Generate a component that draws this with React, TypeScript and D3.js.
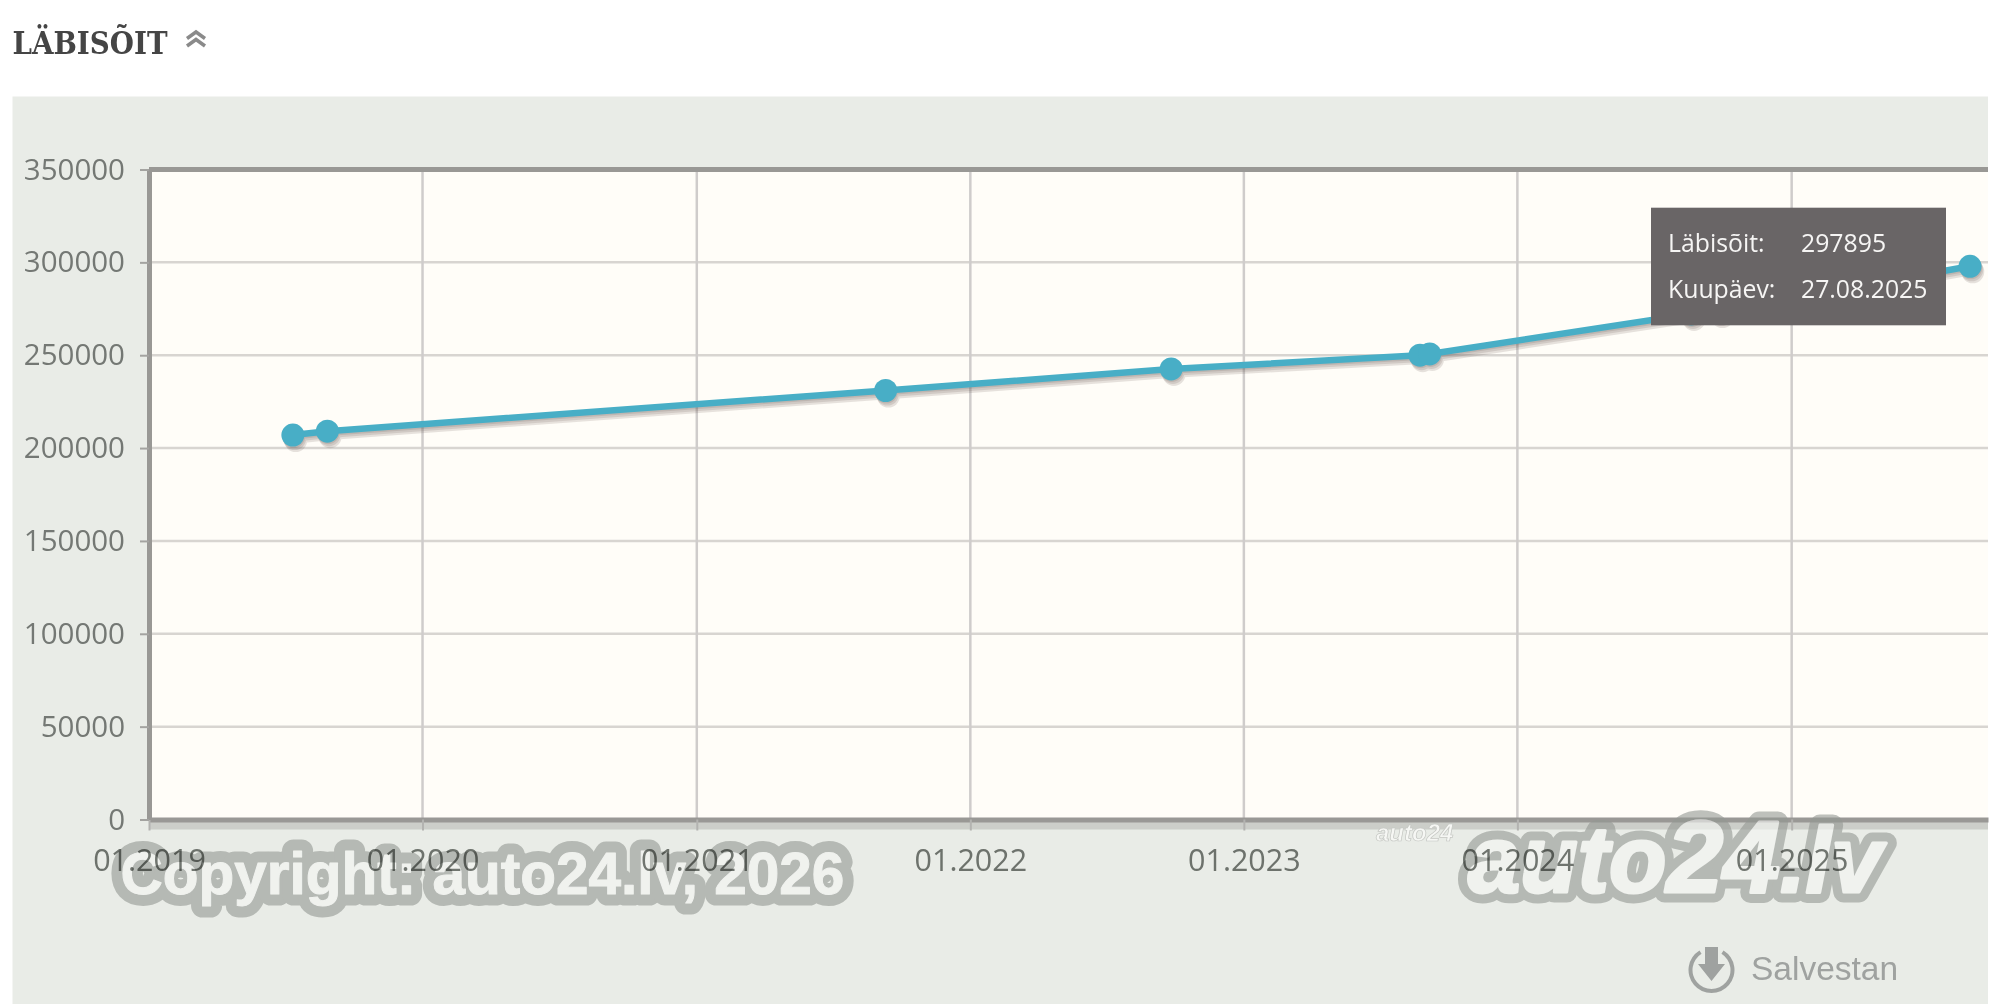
import { useEffect, useRef } from 'react'
import * as d3 from 'd3'

// the last one is in the tooltip
const dates = [
  '2019-07-12',
  '2019-08-27',
  '2021-09-10',
  '2022-09-26',
  '2023-08-24',
  '2023-09-06',
  '2024-08-20',
  '2024-09-27',
  '2025-08-27',
]
const mileage = [207000, 209100, 231000, 242600, 250000, 250700, 272200, 273800, 297895]

const yTicks = [0, 50000, 100000, 150000, 200000, 250000, 300000, 350000]
const xTickYears = [2019, 2020, 2021, 2022, 2023, 2024, 2025]

const tooltipRows = [
  ['Läbisõit:', '297895'],
  ['Kuupäev:', '27.08.2025'],
]

const App = () => {
  const svgRef = useRef<SVGSVGElement | null>(null)

  useEffect(() => {
    if (!svgRef.current) return

    const svg = d3.select(svgRef.current)
    svg.selectAll('*').remove()

    const plot = { left: 149, right: 1988, top: 169.5, bottom: 819.5 }
    const labelFont = '"Open Sans", sans-serif'
    const arial = '"Liberation Sans", Arial, sans-serif'

    const points = dates.map((d, i) => ({ date: new Date(d + 'T00:00:00'), value: mileage[i] }))
    const tickDates = xTickYears.map((y) => new Date(y, 0, 1))

    const x = d3
      .scaleTime()
      .domain([new Date(2019, 0, 1), new Date(2025, 8, 20)])
      .range([plot.left, plot.right])
    const y = d3.scaleLinear().domain([0, 350000]).range([plot.bottom, plot.top])

    // panel and plot background
    svg
      .append('rect')
      .attr('x', 12.5)
      .attr('y', 96.5)
      .attr('width', 1975.5)
      .attr('height', 907.5)
      .attr('fill', '#e9ece7')
    svg
      .append('rect')
      .attr('x', plot.left)
      .attr('y', plot.top)
      .attr('width', plot.right - plot.left)
      .attr('height', plot.bottom - plot.top)
      .attr('fill', '#fffdf8')

    // title with the two chevrons
    svg
      .append('text')
      .attr('x', 12.5)
      .attr('y', 54)
      .attr('font-family', '"DejaVu Serif Condensed", "DejaVu Serif", serif')
      .attr('font-weight', 'bold')
      .attr('font-size', 32)
      .attr('fill', '#454545')
      .attr('textLength', 155)
      .attr('lengthAdjust', 'spacingAndGlyphs')
      .text('LÄBISÕIT')
    svg
      .append('path')
      .attr('d', 'M187,38.5 L196,32 L205,38.5 M187,46 L196,39.5 L205,46')
      .attr('fill', 'none')
      .attr('stroke', '#8a8a8a')
      .attr('stroke-width', 3.5)

    // grid
    svg
      .append('g')
      .selectAll('line')
      .data(yTicks.slice(1, -1))
      .join('line')
      .attr('x1', plot.left)
      .attr('x2', plot.right)
      .attr('y1', (d) => y(d))
      .attr('y2', (d) => y(d))
      .attr('stroke', '#d8d5d1')
      .attr('stroke-width', 2.5)
    svg
      .append('g')
      .selectAll('line')
      .data(tickDates.slice(1))
      .join('line')
      .attr('x1', (d) => x(d))
      .attr('x2', (d) => x(d))
      .attr('y1', plot.top)
      .attr('y2', plot.bottom)
      .attr('stroke', '#cfcccb')
      .attr('stroke-width', 2.5)

    // axis frame shadow + frame
    svg
      .append('rect')
      .attr('x', plot.left)
      .attr('y', plot.bottom + 2)
      .attr('width', plot.right - plot.left)
      .attr('height', 8)
      .attr('fill', '#b9bab6')
      .attr('opacity', 0.6)

    const xTickAxis = d3
      .axisBottom<Date>(x)
      .tickValues(tickDates)
      .tickSize(11)
      .tickSizeOuter(0)
      .tickFormat(() => '')
    const xTickG = svg.append('g').attr('transform', `translate(0,${plot.bottom})`).call(xTickAxis)
    xTickG.select('.domain').attr('stroke', '#999895').attr('stroke-width', 5)
    xTickG.selectAll('.tick line').attr('stroke', '#b3b3b0').attr('stroke-width', 2)

    const yAxis = d3
      .axisLeft(y)
      .tickValues(yTicks)
      .tickSize(9)
      .tickSizeOuter(0)
      .tickPadding(15)
      .tickFormat(d3.format('d'))
    const yG = svg.append('g').attr('transform', `translate(${plot.left},0)`).call(yAxis)
    yG.select('.domain').attr('stroke', '#999895').attr('stroke-width', 5)
    yG.selectAll('.tick line').attr('stroke', '#a3a3a0').attr('stroke-width', 2)
    yG.selectAll('.tick text')
      .attr('font-family', labelFont)
      .attr('font-size', 29.5)
      .attr('fill', '#747874')
      .attr('dy', null)
      .attr('y', 9.5)

    svg
      .append('line')
      .attr('x1', plot.left)
      .attr('x2', plot.right)
      .attr('y1', plot.top)
      .attr('y2', plot.top)
      .attr('stroke', '#999895')
      .attr('stroke-width', 5)

    // line and points, the shadow is the same shape pushed down a few times
    const line = d3
      .line<{ date: Date; value: number }>()
      .x((d) => x(d.date))
      .y((d) => y(d.value))

    const drawSeries = (parent: any, colour: string, opacity: number) => {
      const g = parent.append('g').attr('opacity', opacity)
      g.append('path')
        .datum(points)
        .attr('fill', 'none')
        .attr('stroke', colour)
        .attr('stroke-width', 6.5)
        .attr('d', line)
      g.selectAll('circle')
        .data(points)
        .join('circle')
        .attr('cx', (d: any) => x(d.date))
        .attr('cy', (d: any) => y(d.value))
        .attr('r', 11.5)
        .attr('fill', colour)
      return g
    }

    ;[5.5, 3.5, 1.5].forEach((offset) => {
      drawSeries(svg, '#5b4a45', 0.15).attr('transform', `translate(${offset * 0.5},${offset})`)
    })
    drawSeries(svg, '#48aec6', 1)

    // watermarks: group opacity lets the axis shine through
    const watermark = svg.append('g').attr('opacity', 0.6).attr('font-family', arial)

    // outline first, then the letters a bit fattened so they read as heavy as the original
    const outlined = (outline: number, fatten: number) => {
      const layers = [
        { stroke: '#949893', width: outline },
        { stroke: '#f5f6f4', width: fatten },
      ]
      return layers.map((l) =>
        watermark
          .append('text')
          .attr('font-weight', 'bold')
          .attr('fill', '#f5f6f4')
          .attr('stroke', l.stroke)
          .attr('stroke-width', l.width)
          .attr('stroke-linejoin', 'round')
      )
    }

    outlined(23, 1).forEach((t) =>
      t.attr('x', 120.5).attr('y', 893.5).attr('font-size', 58.5).text('Copyright: auto24.lv, 2026')
    )

    outlined(21, 3).forEach((t) => {
      t.attr('x', 1468).attr('y', 892).attr('font-style', 'italic')
      t.append('tspan').attr('font-size', 94).text('auto')
      t.append('tspan').attr('font-size', 102).text('24')
      t.append('tspan').attr('font-size', 92).text('.lv')
    })

    svg
      .append('text')
      .attr('x', 1376)
      .attr('y', 841)
      .attr('font-family', arial)
      .attr('font-size', 24)
      .attr('font-weight', 'bold')
      .attr('font-style', 'italic')
      .attr('fill', '#f6f7f4')
      .attr('stroke', '#c4c6c2')
      .attr('stroke-width', 0.7)
      .text('auto24')

    // x labels go on top of the watermark and darken it
    const xLabelAxis = d3
      .axisBottom<Date>(x)
      .tickValues(tickDates)
      .tickSize(0)
      .tickSizeOuter(0)
      .tickFormat(d3.timeFormat('%m.%Y') as any)
    const xLabelG = svg.append('g').attr('transform', `translate(0,${plot.bottom})`).call(xLabelAxis)
    xLabelG.select('.domain').remove()
    xLabelG
      .selectAll('.tick text')
      .attr('font-family', labelFont)
      .attr('font-size', 30.5)
      .attr('fill', '#777b77')
      .attr('dy', null)
      .attr('y', 51)
      .style('mix-blend-mode', 'multiply')

    // save button
    const save = svg.append('g').attr('fill', '#9fa2a0').attr('stroke', 'none')
    save
      .append('path')
      .attr('d', d3.arc()({ innerRadius: 19, outerRadius: 23, startAngle: 0.55, endAngle: Math.PI * 2 - 0.55 }) as string)
      .attr('transform', 'translate(1711.5,970)')
    save.append('path').attr('d', 'M1705,947 H1718 V964 H1725 L1711.5,981 L1698,964 H1705 Z')
    save
      .append('text')
      .attr('x', 1751)
      .attr('y', 980)
      .attr('font-family', arial)
      .attr('font-size', 33.5)
      .text('Salvestan')

    // tooltip
    const tooltip = svg.append('g')
    tooltip
      .append('rect')
      .attr('x', 1651)
      .attr('y', 207.7)
      .attr('width', 295)
      .attr('height', 117.6)
      .attr('fill', '#696566')
    const rows = tooltip
      .selectAll('g')
      .data(tooltipRows)
      .join('g')
      .attr('font-family', labelFont)
      .attr('font-size', 24.8)
      .attr('fill', '#f6f5f4')
    rows
      .append('text')
      .attr('x', 1668)
      .attr('y', (_, i) => 251.5 + i * 46.5)
      .text((d) => d[0])
    rows
      .append('text')
      .attr('x', 1801)
      .attr('y', (_, i) => 251.5 + i * 46.5)
      .text((d) => d[1])
  }, [])

  return (
    <svg
      ref={svgRef}
      width={2000}
      height={1004}
      style={{ position: 'absolute', left: 0, top: 0, display: 'block', background: '#fff' }}
    ></svg>
  )
}

export default App
